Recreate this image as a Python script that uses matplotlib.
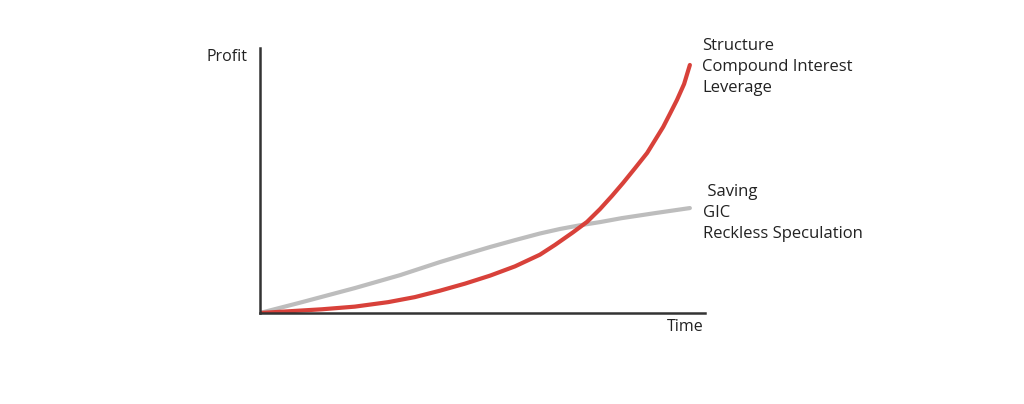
import matplotlib.pyplot as plt

# values (time 0..10, profit 0..10)
red_t = [0, 1.39, 2.13, 2.88, 3.48, 4.04, 4.61, 5.17, 5.73, 6.29, 6.63, 7.03,
         7.35, 7.64, 7.91, 8.16, 8.43, 8.70, 8.88, 9.06, 9.21, 9.37, 9.53, 9.66]
red_p = [0, 0.14, 0.24, 0.41, 0.60, 0.84, 1.11, 1.41, 1.76, 2.20, 2.57, 3.04,
         3.44, 3.92, 4.42, 4.91, 5.47, 6.04, 6.53, 7.02, 7.51, 8.04, 8.64, 9.36]
gray_t = [0, 0.90, 2.13, 3.15, 4.04, 4.61, 5.17, 5.73, 6.29, 6.74, 7.19, 7.64, 8.13, 8.88, 9.66]
gray_p = [0, 0.39, 0.94, 1.43, 1.92, 2.21, 2.49, 2.75, 3.00, 3.17, 3.31, 3.43, 3.58, 3.77, 3.96]

top_labels = ["Structure", "Compound Interest", "Leverage"]
low_labels = [" Saving", "GIC", "Reckless Speculation"]

plt.rcParams['font.family'] = ['Open Sans', 'DejaVu Sans']

fig = plt.figure(figsize=(10.24, 4.04), dpi=100)
ax = fig.add_axes([260 / 1024, 91 / 404, 445 / 1024, 265 / 404])
ax.set_xlim(0, 10)
ax.set_ylim(0, 10)

ax.plot(gray_t, gray_p, color="#bdbdbd", lw=3, solid_capstyle="round",
        solid_joinstyle="round")
ax.plot(red_t, red_p, color="#d8413a", lw=3, solid_capstyle="round",
        solid_joinstyle="round")

for s in ["top", "right"]:
    ax.spines[s].set_visible(False)
for s in ["left", "bottom"]:
    ax.spines[s].set_color("#333333")
    ax.spines[s].set_linewidth(1.8)
ax.set_xticks([])
ax.set_yticks([])

fig.text(206 / 1024, 1 - 57 / 404, "Profit", fontsize=11.5, va="center", color="#222222")
fig.text(667 / 1024, 1 - 327 / 404, "Time", fontsize=11.5, va="center", color="#222222")
fig.text(702 / 1024, 1 - 67 / 404, "\n".join(top_labels), fontsize=12,
         va="center", linespacing=1.4, color="#222222")
fig.text(703 / 1024, 1 - 213 / 404, "\n".join(low_labels), fontsize=12,
         va="center", linespacing=1.4, color="#222222")

fig.savefig("out.png", dpi=100, facecolor="white")
